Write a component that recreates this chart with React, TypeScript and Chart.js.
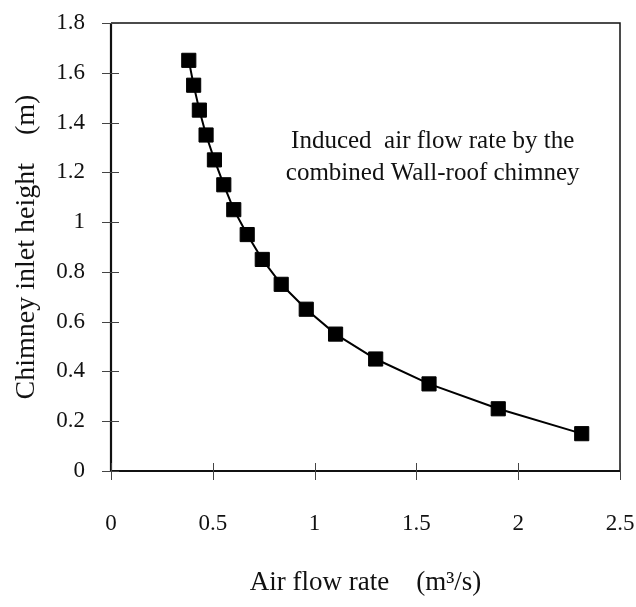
import React, { useEffect, useRef } from "react";
import { Chart, registerables } from "chart.js";

Chart.register(...registerables);

const airFlowRate = [0.382, 0.406, 0.434, 0.467, 0.508, 0.554, 0.603, 0.669, 0.743, 0.836, 0.959, 1.103, 1.3, 1.562, 1.902, 2.312];
const inletHeight = [1.65, 1.55, 1.45, 1.35, 1.25, 1.15, 1.05, 0.95, 0.85, 0.75, 0.65, 0.55, 0.45, 0.35, 0.25, 0.15];
const xTicks = [0, 0.5, 1, 1.5, 2, 2.5];
const yTicks = [0, 0.2, 0.4, 0.6, 0.8, 1, 1.2, 1.4, 1.6, 1.8];
const annotationLines = ["Induced  air flow rate by the", "combined Wall-roof chimney"];
const xTitle = "Air flow rate    (m\u00B3/s)";
const yTitle = "Chimney inlet height    (m)";

const FONT = "'Liberation Serif', 'Times New Roman', serif";

const framePlugin = {
  id: "frame",
  afterDraw(chart: any) {
    const { ctx, chartArea } = chart;
    const { left, right, top, bottom } = chartArea;
    const xs = chart.scales.x;
    const ys = chart.scales.y;
    ctx.save();
    ctx.strokeStyle = "#111";
    ctx.lineWidth = 1.5;
    ctx.beginPath();
    ctx.moveTo(left, top);
    ctx.lineTo(right, top);
    ctx.lineTo(right, bottom);
    ctx.stroke();
    ctx.lineWidth = 2.2;
    ctx.beginPath();
    ctx.moveTo(left, top);
    ctx.lineTo(left, bottom);
    ctx.lineTo(right, bottom);
    ctx.stroke();
    ctx.lineWidth = 1;
    ctx.strokeStyle = "#444";
    ctx.beginPath();
    xTicks.forEach((v) => {
      const px = Math.round(xs.getPixelForValue(v)) + 0.5;
      ctx.moveTo(px, bottom - 8);
      ctx.lineTo(px, bottom + 9);
    });
    yTicks.forEach((v) => {
      const py = Math.round(ys.getPixelForValue(v)) + 0.5;
      ctx.moveTo(left - 9, py);
      ctx.lineTo(left + 8, py);
    });
    ctx.stroke();
    ctx.fillStyle = "#111";
    ctx.font = "25px " + FONT;
    ctx.textAlign = "center";
    ctx.textBaseline = "middle";
    const cx = xs.getPixelForValue(1.58);
    ctx.fillText(annotationLines[0], cx, ys.getPixelForValue(1.325));
    ctx.fillText(annotationLines[1], cx, ys.getPixelForValue(1.195));
    ctx.restore();
  },
};

export default function App() {
  const canvasRef = useRef<HTMLCanvasElement | null>(null);

  useEffect(() => {
    const canvas = canvasRef.current;
    if (!canvas) return;
    const chart = new Chart(canvas, {
      type: "line",
      data: {
        datasets: [
          {
            data: airFlowRate.map((x, i) => ({ x, y: inletHeight[i] })),
            borderColor: "#000",
            borderWidth: 2,
            backgroundColor: "#000",
            pointStyle: "rect",
            pointRadius: 10,
            pointBorderWidth: 1,
            pointBorderColor: "#000",
            pointBackgroundColor: "#000",
            tension: 0,
          },
        ],
      },
      options: {
        responsive: false,
        animation: false,
        maintainAspectRatio: false,
        layout: { padding: { top: 23, right: 16, left: 0, bottom: 0 } },
        plugins: { legend: { display: false }, tooltip: { enabled: false } },
        scales: {
          x: {
            type: "linear",
            min: 0,
            max: 2.5,
            afterBuildTicks: (s: any) => {
              s.ticks = xTicks.map((v) => ({ value: v }));
            },
            afterFit: (s: any) => {
              s.height = 136;
              s.paddingLeft = 0;
              s.paddingRight = 0;
              s.paddingTop = 0;
              s.paddingBottom = 0;
            },
            grid: { display: false, drawTicks: false },
            border: { display: false },
            ticks: {
              color: "#111",
              padding: 39,
              maxRotation: 0,
              font: { family: FONT, size: 23 },
              callback: (v: any) => String(v),
            },
            title: {
              display: true,
              text: xTitle,
              color: "#111",
              font: { family: FONT, size: 27 },
              padding: { top: 0, bottom: 8 },
            },
          },
          y: {
            type: "linear",
            min: 0,
            max: 1.8,
            afterBuildTicks: (s: any) => {
              s.ticks = yTicks.map((v) => ({ value: v }));
            },
            afterFit: (s: any) => {
              s.width = 111;
              s.paddingLeft = 0;
              s.paddingRight = 0;
              s.paddingTop = 0;
              s.paddingBottom = 0;
            },
            grid: { display: false, drawTicks: false },
            border: { display: false },
            ticks: {
              color: "#111",
              padding: 26,
              font: { family: FONT, size: 23 },
              callback: (v: any) => String(v),
            },
            title: {
              display: true,
              text: yTitle,
              color: "#111",
              font: { family: FONT, size: 28 },
              padding: { top: 10, bottom: 0 },
            },
          },
        },
      },
      plugins: [framePlugin],
    });
    return () => chart.destroy();
  }, []);

  return (
    <div style={{ position: "fixed", left: 0, top: 0, width: 636, height: 607, background: "#fff" }}>
      <canvas ref={canvasRef} width={636} height={607} style={{ width: 636, height: 607, display: "block" }} />
    </div>
  );
}
